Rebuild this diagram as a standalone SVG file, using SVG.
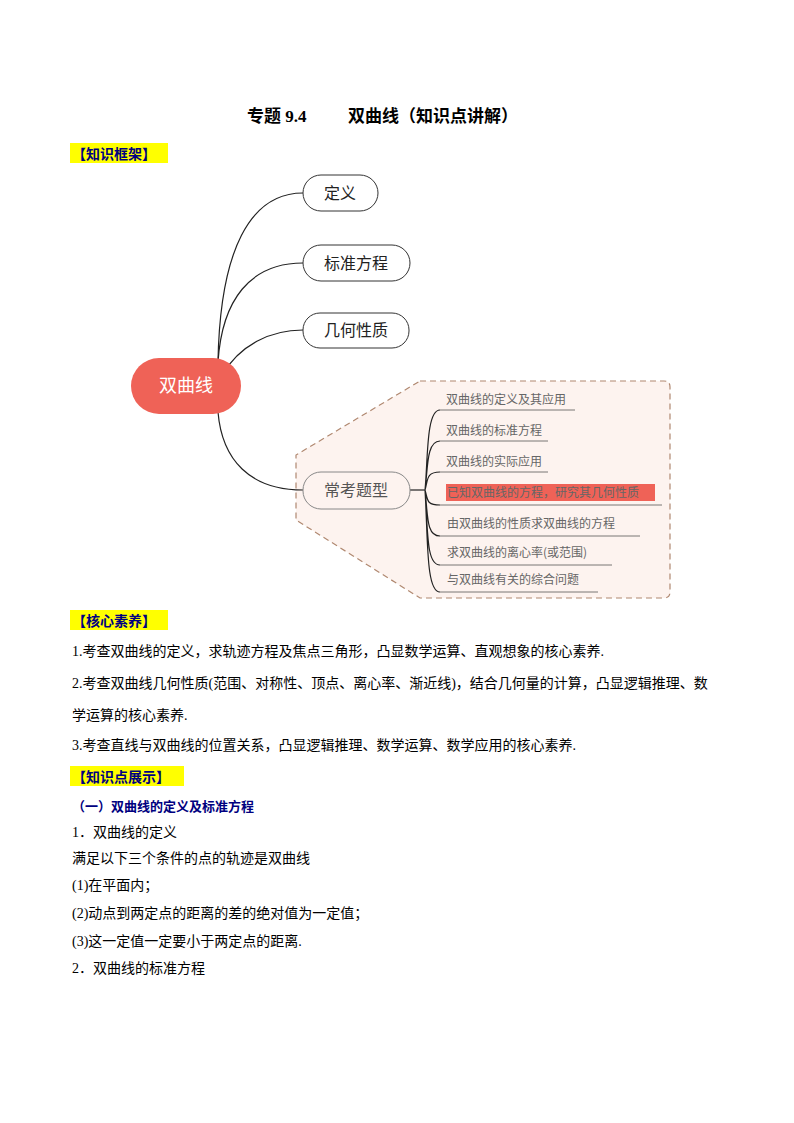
<svg xmlns="http://www.w3.org/2000/svg" width="794" height="1123" viewBox="0 0 794 1123">
<style>
.t{font-family:"Liberation Serif","Noto Sans CJK SC",serif;font-size:14px;fill:#000}
.h{font-family:"Liberation Serif","Noto Sans CJK SC",serif;font-size:14px;font-weight:bold;fill:#000080}
.b{fill:#fff;stroke:#333;stroke-width:1}
.bt{font-family:"Noto Sans CJK SC",sans-serif;font-size:16px;fill:#222;text-anchor:middle}
.it{font-family:"Noto Sans CJK SC",sans-serif;font-size:12px;fill:#666}
.c{fill:none;stroke:#222;stroke-width:1.2}
.u{stroke:#555;stroke-width:0.8}
</style>
<rect width="794" height="1123" fill="#fff"/>
<text x="247" y="122" class="t" style="font-weight:bold;font-size:17px">专题 9.4</text>
<text x="348" y="122" class="t" style="font-weight:bold;font-size:17px">双曲线（知识点讲解）</text>
<rect x="70" y="143" width="98" height="20" fill="#ffff00"/>
<text x="72" y="159" class="h">【知识框架】</text>
<path d="M420,381 L664,381 Q670,381 670,387 L670,592 Q670,598 664,598 L420,598 L296,520 L296,455 Z" fill="#fdf3ef" stroke="#b08870" stroke-dasharray="6,4" stroke-width="1.2"/>
<g id="connectors">
<path class="c" d="M218,362 C220,250 250,193 303,193"/>
<path class="c" d="M218,362 C222,300 250,263 303,263"/>
<path class="c" d="M222,375 C240,345 270,330 303,330"/>
<path class="c" d="M218,412 C222,460 250,490 303,490"/>
<path class="c" d="M410,490 L425,490"/>
<path class="c" d="M425,490 C428,460 426,410 440,410 M425,490 C428,470 426,441 440,441 M425,490 C428,480 426,472 440,472 M425,490 C428,500 426,505 440,505 M425,490 C428,515 426,536 440,536 M425,490 C428,530 426,565 440,565 M425,490 C428,540 426,592 440,592"/>
</g>
<g id="center"><rect x="131" y="358" width="110" height="56" rx="28" fill="#ef6257"/><text x="186" y="392" class="bt" style="fill:#fff;font-size:18px">双曲线</text></g>
<g id="n1"><rect class="b" x="303" y="175" width="75" height="36" rx="18"/><text x="340" y="199" class="bt">定义</text></g>
<g id="n2"><rect class="b" x="303" y="245" width="107" height="36" rx="18"/><text x="356" y="269" class="bt">标准方程</text></g>
<g id="n3"><rect class="b" x="303" y="313" width="106" height="35" rx="17"/><text x="356" y="336" class="bt">几何性质</text></g>
<g id="n4"><rect x="303" y="472" width="107" height="37" rx="18" fill="#fdf3ef" stroke="#888"/><text x="356" y="496" class="bt" style="fill:#555">常考题型</text></g>
<g id="items">
<rect x="446" y="484" width="209" height="17" fill="#ef6257"/>
<text x="446" y="404" class="it">双曲线的定义及其应用</text><line class="u" x1="440" y1="410" x2="575" y2="410"/>
<text x="446" y="435" class="it">双曲线的标准方程</text><line class="u" x1="440" y1="441" x2="548" y2="441"/>
<text x="446" y="466" class="it">双曲线的实际应用</text><line class="u" x1="440" y1="472" x2="548" y2="472"/>
<text x="447" y="497" class="it">已知双曲线的方程，研究其几何性质</text><line class="u" x1="440" y1="505" x2="662" y2="505"/>
<text x="447" y="528" class="it">由双曲线的性质求双曲线的方程</text><line class="u" x1="440" y1="536" x2="640" y2="536"/>
<text x="447" y="557" class="it">求双曲线的离心率(或范围)</text><line class="u" x1="440" y1="565" x2="612" y2="565"/>
<text x="447" y="584" class="it">与双曲线有关的综合问题</text><line class="u" x1="440" y1="592" x2="598" y2="592"/>
</g>
<rect x="70" y="610" width="98" height="20" fill="#ffff00"/>
<text x="72" y="626" class="h">【核心素养】</text>
<text x="72" y="656" class="t">1.考查双曲线的定义，求轨迹方程及焦点三角形，凸显数学运算、直观想象的核心素养.</text>
<text x="72" y="688" class="t">2.考查双曲线几何性质(范围、对称性、顶点、离心率、渐近线)，结合几何量的计算，凸显逻辑推理、数</text>
<text x="72" y="720" class="t">学运算的核心素养.</text>
<text x="72" y="750" class="t">3.考查直线与双曲线的位置关系，凸显逻辑推理、数学运算、数学应用的核心素养.</text>
<rect x="70" y="766" width="114" height="20" fill="#ffff00"/>
<text x="72" y="782" class="h">【知识点展示】</text>
<text x="72" y="811" class="h" style="font-size:13px">（一）双曲线的定义及标准方程</text>
<text x="72" y="837" class="t">1．双曲线的定义</text>
<text x="72" y="863" class="t">满足以下三个条件的点的轨迹是双曲线</text>
<text x="72" y="890" class="t">(1)在平面内；</text>
<text x="72" y="918" class="t">(2)动点到两定点的距离的差的绝对值为一定值；</text>
<text x="72" y="946" class="t">(3)这一定值一定要小于两定点的距离.</text>
<text x="72" y="973" class="t">2．双曲线的标准方程</text>
</svg>
